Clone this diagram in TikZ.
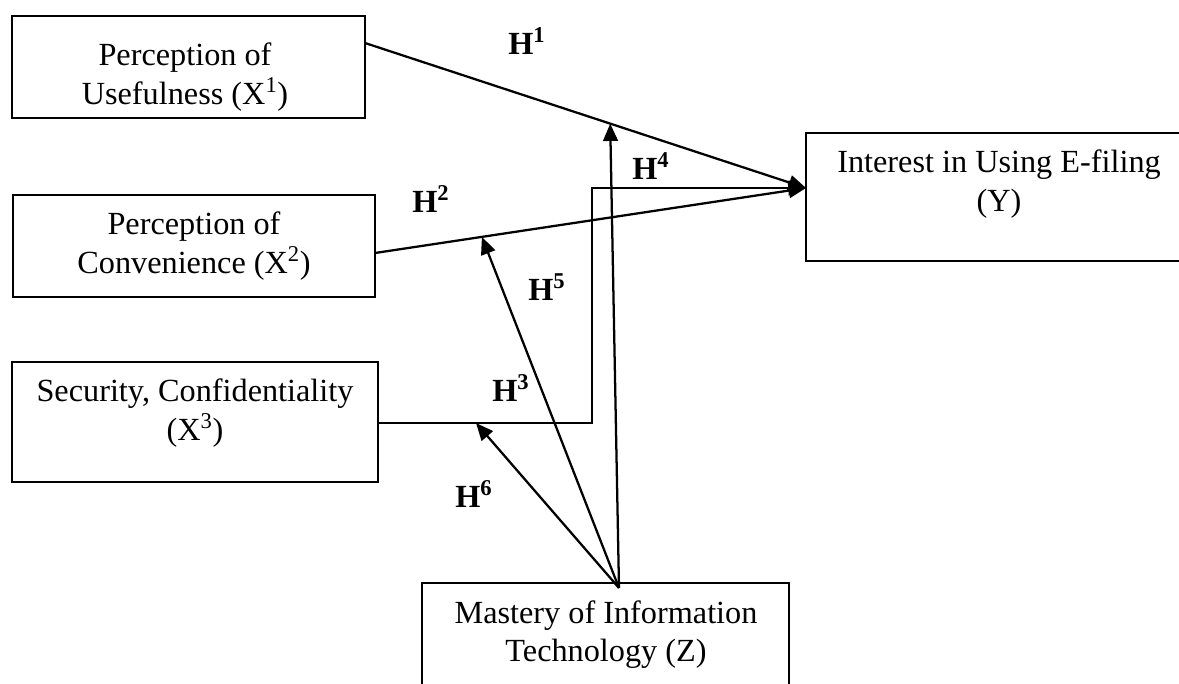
\documentclass[tikz,border=0pt]{standalone}
\usepackage{fontspec}
\setmainfont{Liberation Serif}
\usetikzlibrary{arrows.meta,calc}
\begin{document}
\begin{tikzpicture}[x=0.75pt,y=-0.75pt,
  box/.style={draw,line width=2.2pt,inner sep=0pt,outer sep=0pt},
  txt/.style={align=center,inner sep=0pt,font=\fontsize{24.2}{29}\selectfont},
  hyp/.style={anchor=base west,inner sep=0pt,font=\fontsize{24.2}{29}\selectfont\bfseries},
  conn/.style={line width=1.7pt},
  arr/.style={conn,-{Triangle[length=13pt,width=11pt]}}]
\useasboundingbox (0,0) rectangle (1179,684);
\clip (0,0) rectangle (1179,684);

% boxes
\node[box,minimum width=264.75pt,minimum height=76.5pt] (x1) at (188.5,67) {};
\node[box,minimum width=271.5pt,minimum height=76.5pt] (x2) at (194,246) {};
\node[box,minimum width=274.5pt,minimum height=90pt] (x3) at (195,422) {};
\node[box,minimum width=289.5pt,minimum height=96pt] (y) at (999,197) {};
\node[box,minimum width=275.25pt,minimum height=90pt] (z) at (605.5,643) {};

% texts
\node[txt] (x1t) at (185,77) {\strut Perception of\\\strut Usefulness (X\textsuperscript{1})};
\node[txt] (x2t) at (194,246.6) {\strut Perception of\\\strut Convenience (X\textsuperscript{2})};
\node[txt] (x3t) at (195,413.6) {\strut Security, Confidentiality\\\strut (X\textsuperscript{3})};
\node[txt] (yt0) at (999,184.6) {\strut Interest in Using E-filing\\\strut (Y)};
\node[txt] (zt) at (606,634.6) {\strut Mastery of Information\\\strut Technology (Z)};

% connector end points
\coordinate (s1) at ($(x1.north east)+(0,27)$);
\coordinate (s2) at ($(x2.north east)+(0,58)$);
\coordinate (s3) at ($(x3.north east)+(0,61)$);
\coordinate (yt) at ($(y.north west)+(0,55)$);
\coordinate (k3) at ($(s3)+(214,0)$);
\coordinate (za) at ($(z.north west)+(197,5)$);
\coordinate (p1) at ($(s1)!0.556!(yt)$);
\coordinate (p2) at ($(s2)!0.248!(yt)$);
\coordinate (p3) at ($(s3)!0.458!(k3)$);

% connectors
\draw[arr] (s1) -- (yt);
\draw[arr] (s2) -- (yt);
\draw[arr] (s3) -- (k3) |- (yt);
\draw[arr] (za) -- (p1);
\draw[arr] (za) -- (p2);
\draw[arr] (za) -- (p3);

% hypothesis labels
\node[hyp] (h1) at (508,55) {H\textsuperscript{1}};
\node[hyp] (h2) at (412,213) {H\textsuperscript{2}};
\node[hyp] (h4) at (632,180) {H\textsuperscript{4}};
\node[hyp] (h5) at (528,301) {H\textsuperscript{5}};
\node[hyp] (h3) at (492,402) {H\textsuperscript{3}};
\node[hyp] (h6) at (455,508) {H\textsuperscript{6}};
\end{tikzpicture}
\end{document}
